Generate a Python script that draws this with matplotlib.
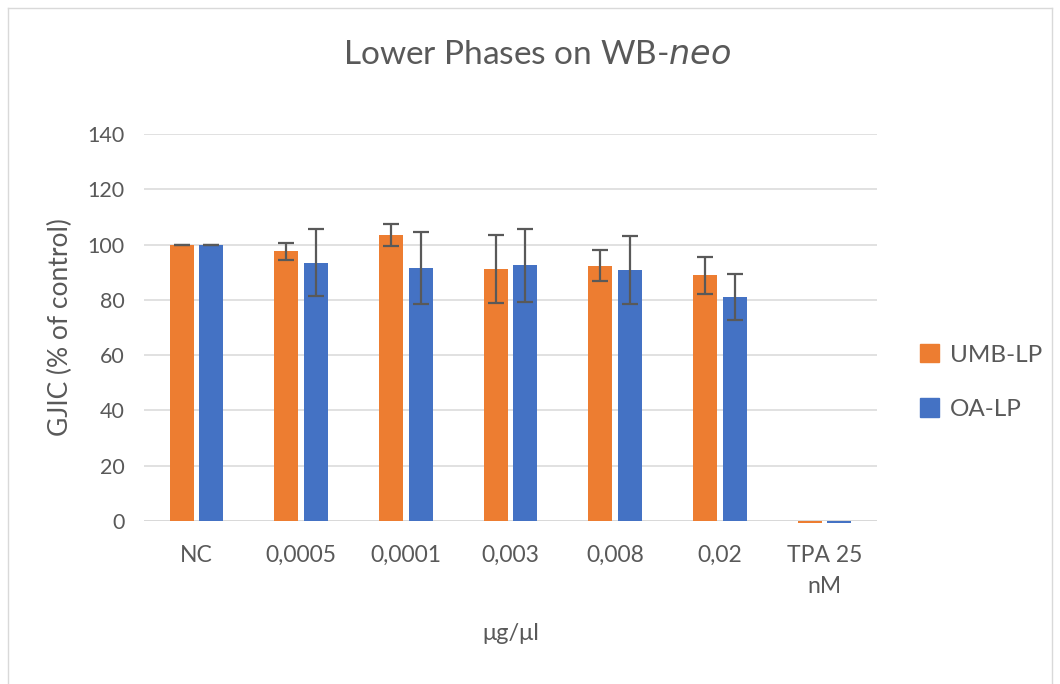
import matplotlib
matplotlib.use("Agg")
import matplotlib.pyplot as plt
import numpy as np
from matplotlib.patches import Rectangle
from matplotlib.lines import Line2D

categories = ["NC", "0,0005", "0,0001", "0,003", "0,008", "0,02", "TPA 25\nnM"]
umb_lp = [100.0, 97.5, 103.6, 91.2, 92.4, 88.9, -0.7]
umb_lp_err = [0.0, 3.0, 4.0, 12.2, 5.5, 6.7, np.nan]
oa_lp = [100.0, 93.5, 91.5, 92.6, 90.8, 81.0, -0.7]
oa_lp_err = [0.0, 12.2, 13.0, 13.2, 12.3, 8.2, np.nan]
yticks = [0, 20, 40, 60, 80, 100, 120, 140]

ORANGE = "#ED7D31"
BLUE = "#4472C4"
TEXT = "#595959"
GRID = "#D9D9D9"

plt.rcParams["font.family"] = ["Lato", "DejaVu Sans"]

fig = plt.figure(figsize=(10.6, 6.84), dpi=100)
ax = fig.add_axes([144 / 1060, 163 / 684, 733 / 1060, 387 / 684])

x = np.arange(len(categories))
w = 0.229
off = 0.141
err_kw = dict(ecolor=TEXT, elinewidth=1.6, capsize=6, capthick=1.6)
ax.bar(x - off, umb_lp, w, color=ORANGE, yerr=umb_lp_err, error_kw=err_kw,
       label="UMB-LP", clip_on=False, zorder=3, linewidth=0)
ax.bar(x + off, oa_lp, w, color=BLUE, yerr=oa_lp_err, error_kw=err_kw,
       label="OA-LP", clip_on=False, zorder=3, linewidth=0)

ax.set_xlim(-0.5, len(categories) - 0.5)
ax.set_ylim(0, 140)
ax.set_yticks(yticks)
ax.yaxis.grid(True, color=GRID, linewidth=1.1, zorder=0)
ax.set_axisbelow(True)
for s in ax.spines.values():
    s.set_visible(False)
ax.axhline(0, color=GRID, linewidth=1.3, zorder=2)

ax.set_xticks(x)
ax.set_xticklabels(categories, fontsize=16.5, color=TEXT, linespacing=1.6)
ax.tick_params(axis="both", length=0, colors=TEXT)
ax.tick_params(axis="x", pad=17, labelsize=16.5)
ax.tick_params(axis="y", pad=14, labelsize=15.5)

ax.set_ylabel("GJIC (% of control)", fontsize=19, color=TEXT, labelpad=10)
ax.set_xlabel("μg/μl", fontsize=17, color=TEXT, labelpad=19)

fig.text(537 / 1060, 1 - 55 / 684, "Lower Phases on WB-$\\it{neo}$",
         fontsize=24, color=TEXT, ha="center", va="center")

handles = [Rectangle((0, 0), 1, 1, color=ORANGE), Rectangle((0, 0), 1, 1, color=BLUE)]
fig.legend(handles, ["UMB-LP", "OA-LP"], loc="center left",
           bbox_to_anchor=(898 / 1060, 1 - 382 / 684), frameon=False,
           fontsize=17.5, labelcolor=TEXT, handlelength=0.8, handleheight=0.8,
           handletextpad=0.45, labelspacing=1.35)

# chart frame
frame_color = "#D9D9D9"
for xs, ys in [((8, 8), (8, 684)), ((8, 1052), (8, 8)), ((1052, 1052), (8, 684))]:
    fig.add_artist(Line2D([v / 1060 for v in xs], [1 - v / 684 for v in ys],
                          color=frame_color, linewidth=1.0))

fig.savefig("out.png", dpi=100)
